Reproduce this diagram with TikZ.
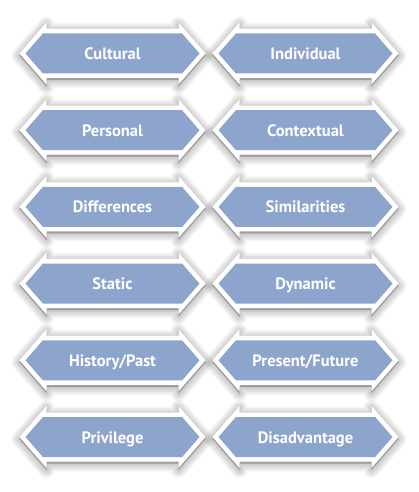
\documentclass[tikz,border=0pt]{standalone}
\usepackage{fontspec}
\setmainfont{PT Sans}
\definecolor{arrowblue}{RGB}{141,164,205}
\tikzset{
  whiteshape/.style={fill=white},
  bluehex/.style={fill=arrowblue},
  arrowtext/.style={text=white, font=\bfseries\fontsize{16.5}{18}\selectfont, inner sep=0pt, anchor=base},
  shadowlayer/.style={draw=black, fill=black, line join=round, opacity=0.04}
}
\newcommand\outerpath{(-93,0) -- (-66,-31) -- (-66,-24.5) -- (66,-24.5) -- (66,-31) -- (93,0) -- (66,31) -- (66,24.5) -- (-66,24.5) -- (-66,31) -- cycle}
\newcommand\hexpath{(-87,0) -- (-69.6,-20) -- (69.6,-20) -- (87,0) -- (69.6,20) -- (-69.6,20) -- cycle}
\newcommand\mydblarrow[4]{%
  \begin{scope}[shift={(#2,#3)}]
    \foreach \w in {16,13,10,7,4,1}{
      \path[shadowlayer, line width=\w pt, yshift=-2pt] \outerpath;
    }
    \path[whiteshape] \outerpath;
    \path[bluehex] \hexpath;
    \node[arrowtext] (#1) at (0,6) {#4};
  \end{scope}
}
\begin{document}
\begin{tikzpicture}[x=1pt,y=-1pt]
  \useasboundingbox (0,0) rectangle (418,492);
  \fill[white] (0,0) rectangle (418,492);
  \mydblarrow{cultural}{112.5}{53.5}{Cultural}
  \mydblarrow{individual}{305.5}{53.5}{Individual}
  \mydblarrow{personal}{112.5}{130.2}{Personal}
  \mydblarrow{contextual}{305.5}{130.2}{Contextual}
  \mydblarrow{differences}{112.5}{206.9}{Differences}
  \mydblarrow{similarities}{305.5}{206.9}{Similarities}
  \mydblarrow{static}{112.5}{283.6}{Static}
  \mydblarrow{dynamic}{305.5}{283.6}{Dynamic}
  \mydblarrow{history}{112.5}{360.3}{History/Past}
  \mydblarrow{present}{305.5}{360.3}{Present/Future}
  \mydblarrow{privilege}{112.5}{437}{Privilege}
  \mydblarrow{disadvantage}{305.5}{437}{Disadvantage}
\end{tikzpicture}
\end{document}
